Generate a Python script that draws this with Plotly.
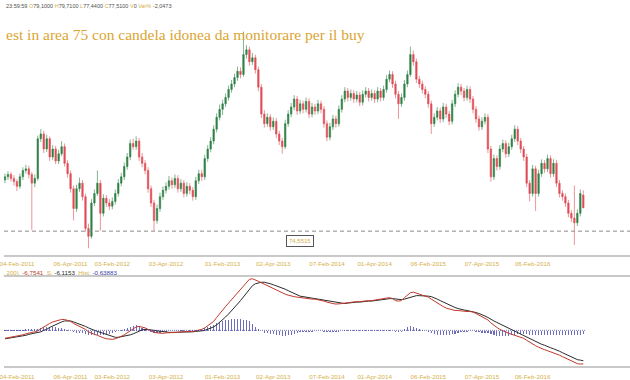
import numpy as np
import plotly.graph_objects as go

# ---- price data (one candle per bar index) ----
opens = [81.0, 81.4, 81.7, 81.2, 80.8, 80.2, 81.4, 82.2, 82.4, 81.7,
         80.6, 81.2, 86.2, 86.8, 84.9, 86.2, 83.9, 84.9, 83.4, 84.3,
         85.2, 83.1, 81.8, 79.9, 77.4, 79.9, 80.6, 78.9, 74.9, 73.9,
         78.1, 79.3, 80.6, 76.8, 78.7, 78.1, 77.7, 78.3, 79.3, 80.6,
         81.4, 82.7, 83.9, 85.6, 85.2, 85.9, 83.9, 83.1, 82.2, 79.9,
         78.1, 75.9, 77.4, 78.9, 79.7, 80.2, 80.9, 80.4, 81.2, 79.9,
         80.6, 79.3, 80.2, 79.7, 78.9, 80.9, 81.8, 81.4, 83.7, 84.9,
         85.9, 87.4, 88.9, 89.9, 90.6, 91.4, 92.4, 93.1, 93.9, 94.7,
         94.3, 96.8, 97.4, 95.9, 96.4, 94.9, 92.7, 89.3, 88.1, 88.9,
         87.7, 88.4, 86.8, 85.9, 85.2, 88.1, 89.3, 90.2, 91.2, 89.7,
         90.6, 89.9, 90.9, 89.3, 90.2, 89.7, 90.6, 89.9, 88.1, 86.4,
         87.7, 88.7, 88.1, 89.9, 91.2, 92.2, 91.4, 91.9, 91.2, 91.7,
         90.8, 91.8, 92.2, 91.4, 91.9, 91.2, 92.2, 91.4, 92.4, 93.7,
         94.3, 93.1, 91.8, 90.6, 91.4, 93.1, 94.3, 96.8, 95.9, 93.7,
         93.1, 92.4, 91.8, 90.6, 88.1, 88.9, 89.7, 88.7, 90.2, 89.3,
         88.4, 90.6, 91.8, 92.7, 92.2, 91.4, 92.4, 91.2, 89.9, 88.7,
         87.7, 88.4, 88.9, 84.9, 81.4, 83.7, 82.7, 84.9, 85.6, 84.3,
         85.2, 86.2, 87.4, 85.9, 84.9, 83.9, 80.6, 79.3, 82.4, 79.3,
         81.8, 83.1, 82.4, 83.7, 81.8, 83.1, 80.6, 79.3, 78.9, 78.1,
         76.8, 76.2, 75.6, 76.8, 79.10]

highs = [81.8, 82.1, 82.0, 81.6, 81.1, 81.8, 82.6, 82.9, 82.8, 82.0,
         81.7, 86.6, 87.4, 87.2, 86.7, 86.5, 85.4, 85.3, 84.8, 85.9,
         85.6, 83.5, 82.2, 80.3, 80.4, 81.3, 81.0, 79.3, 75.5, 78.6,
         79.8, 82.2, 81.0, 79.2, 79.1, 78.6, 78.8, 79.8, 81.1, 81.9,
         83.2, 84.4, 86.1, 86.2, 86.5, 86.3, 84.4, 83.5, 82.6, 80.3,
         78.5, 77.9, 79.4, 80.2, 80.7, 81.5, 81.3, 81.7, 81.6, 81.1,
         81.0, 80.7, 80.6, 80.1, 81.4, 82.3, 82.3, 84.2, 85.4, 86.4,
         87.9, 89.4, 90.5, 91.1, 91.9, 92.9, 93.6, 94.4, 95.3, 95.2,
         99.7, 98.0, 97.8, 97.0, 96.8, 95.3, 93.1, 89.8, 89.4, 89.3,
         88.9, 88.8, 87.2, 86.3, 88.6, 89.8, 90.7, 91.7, 91.6, 91.1,
         91.0, 91.4, 91.3, 90.7, 90.6, 91.1, 91.0, 90.3, 88.5, 88.2,
         89.2, 89.1, 90.4, 91.7, 92.7, 92.6, 92.4, 92.3, 92.2, 92.1,
         92.3, 92.7, 92.6, 92.4, 92.3, 92.7, 92.6, 92.9, 94.2, 94.8,
         94.7, 93.5, 92.2, 91.9, 93.6, 94.8, 97.8, 97.3, 96.3, 94.1,
         93.5, 92.8, 92.2, 91.0, 89.4, 90.2, 90.1, 90.7, 90.6, 89.7,
         91.1, 92.3, 93.2, 93.1, 92.6, 92.9, 92.8, 91.6, 90.3, 89.1,
         88.9, 89.4, 89.3, 85.3, 84.2, 84.1, 85.4, 86.1, 86.0, 85.7,
         86.7, 87.9, 87.8, 86.3, 85.3, 84.3, 81.0, 82.9, 82.8, 82.3,
         83.6, 83.5, 84.2, 84.1, 83.6, 83.5, 81.0, 79.7, 79.3, 78.5,
         77.2, 80.3, 77.3, 79.8, 79.71]

lows = [80.6, 81.0, 80.8, 80.3, 79.6, 79.9, 81.0, 81.8, 81.2, 74.7,
        80.1, 80.9, 85.8, 84.4, 84.5, 83.4, 83.5, 83.0, 83.0, 84.0,
        82.7, 81.3, 79.4, 75.9, 77.0, 79.5, 78.4, 74.5, 72.4, 73.6,
        77.7, 79.0, 74.6, 76.4, 77.6, 77.2, 77.3, 77.9, 78.9, 80.2,
        81.0, 82.3, 83.5, 84.8, 84.8, 83.4, 82.6, 81.7, 79.4, 77.6,
        74.6, 75.5, 77.0, 78.5, 79.3, 79.8, 79.9, 80.0, 79.4, 79.5,
        78.8, 78.9, 79.2, 78.4, 78.5, 80.5, 80.9, 81.0, 83.3, 84.5,
        85.5, 87.0, 88.5, 89.2, 90.2, 91.0, 92.0, 92.7, 93.5, 93.8,
        94.0, 96.3, 95.4, 95.5, 94.4, 92.2, 88.8, 87.6, 87.7, 87.2,
        87.3, 86.3, 85.4, 84.3, 84.9, 87.7, 88.9, 89.8, 89.2, 89.3,
        89.4, 89.5, 88.8, 88.9, 89.2, 89.3, 89.4, 87.6, 85.9, 86.0,
        87.3, 87.6, 87.7, 89.5, 90.8, 90.9, 91.0, 90.7, 90.8, 90.3,
        90.4, 91.4, 90.9, 91.0, 90.7, 90.8, 90.9, 91.0, 92.0, 93.3,
        92.6, 91.3, 88.7, 90.2, 91.0, 92.7, 94.0, 95.4, 93.2, 92.6,
        91.9, 91.3, 90.1, 86.8, 87.7, 88.5, 88.2, 88.3, 88.8, 87.9,
        88.0, 90.2, 91.4, 91.7, 90.9, 91.0, 90.7, 89.4, 88.2, 87.2,
        87.3, 88.0, 84.4, 80.8, 81.0, 82.2, 82.3, 84.5, 83.8, 83.9,
        84.8, 85.8, 85.4, 84.4, 83.4, 80.1, 78.3, 78.9, 77.1, 78.9,
        81.4, 81.9, 82.0, 81.3, 81.4, 80.1, 78.8, 78.4, 77.6, 76.3,
        75.7, 72.8, 75.2, 76.4, 77.44]

closes = [81.4, 81.7, 81.2, 80.8, 80.2, 81.4, 82.2, 82.4, 81.7, 80.6,
          81.2, 86.2, 86.8, 84.9, 86.2, 83.9, 84.9, 83.4, 84.3, 85.2,
          83.1, 81.8, 79.9, 77.4, 79.9, 80.6, 78.9, 74.9, 73.9, 78.1,
          79.3, 80.6, 76.8, 78.7, 78.1, 77.7, 78.3, 79.3, 80.6, 81.4,
          82.7, 83.9, 85.6, 85.2, 85.9, 83.9, 83.1, 82.2, 79.9, 78.1,
          75.9, 77.4, 78.9, 79.7, 80.2, 80.9, 80.4, 81.2, 79.9, 80.6,
          79.3, 80.2, 79.7, 78.9, 80.9, 81.8, 81.4, 83.7, 84.9, 85.9,
          87.4, 88.9, 89.9, 90.6, 91.4, 92.4, 93.1, 93.9, 94.7, 94.3,
          96.8, 97.4, 95.9, 96.4, 94.9, 92.7, 89.3, 88.1, 88.9, 87.7,
          88.4, 86.8, 85.9, 85.2, 88.1, 89.3, 90.2, 91.2, 89.7, 90.6,
          89.9, 90.9, 89.3, 90.2, 89.7, 90.6, 89.9, 88.1, 86.4, 87.7,
          88.7, 88.1, 89.9, 91.2, 92.2, 91.4, 91.9, 91.2, 91.7, 90.8,
          91.8, 92.2, 91.4, 91.9, 91.2, 92.2, 91.4, 92.4, 93.7, 94.3,
          93.1, 91.8, 90.6, 91.4, 93.1, 94.3, 96.8, 95.9, 93.7, 93.1,
          92.4, 91.8, 90.6, 88.1, 88.9, 89.7, 88.7, 90.2, 89.3, 88.4,
          90.6, 91.8, 92.7, 92.2, 91.4, 92.4, 91.2, 89.9, 88.7, 87.7,
          88.4, 88.9, 84.9, 81.4, 83.7, 82.7, 84.9, 85.6, 84.3, 85.2,
          86.2, 87.4, 85.9, 84.9, 83.9, 80.6, 79.3, 82.4, 79.3, 81.8,
          83.1, 82.4, 83.7, 81.8, 83.1, 80.6, 79.3, 78.9, 78.1, 76.8,
          76.2, 75.6, 76.8, 79.3, 77.51]

# ---- MACD panel data ----
macd_line = [-1.6, -1.5, -1.4, -1.3, -1.2, -1.1, -0.9, -0.7, -0.5, -0.4,
             -0.3, -0.1, 0.3, 0.7, 1.0, 1.4, 1.7, 1.9, 2.1, 2.2,
             2.2, 2.0, 1.8, 1.4, 1.1, 0.9, 0.6, 0.2, -0.3, -0.6,
             -0.8, -1.0, -1.3, -1.5, -1.7, -1.8, -1.8, -1.7, -1.5, -1.2,
             -0.9, -0.5, -0.1, 0.3, 0.7, 0.8, 0.7, 0.5, 0.2, -0.1,
             -0.4, -0.5, -0.6, -0.6, -0.5, -0.5, -0.4, -0.4, -0.4, -0.3,
             -0.3, -0.3, -0.2, -0.2, -0.1, 0.0, 0.2, 0.5, 0.9, 1.3,
             1.8, 2.6, 3.4, 4.1, 4.8, 5.5, 6.2, 6.9, 7.6, 8.3,
             9.0, 9.7, 10.3, 10.4, 10.2, 9.9, 9.6, 9.3, 9.1, 8.8,
             8.5, 8.2, 7.9, 7.6, 7.3, 7.1, 6.9, 6.8, 6.7, 6.6,
             6.6, 6.5, 6.4, 6.3, 6.3, 6.2, 6.1, 5.9, 5.7, 5.5,
             5.4, 5.3, 5.3, 5.4, 5.5, 5.6, 5.7, 5.7, 5.8, 5.8,
             5.9, 5.9, 6.0, 6.0, 6.1, 6.1, 6.2, 6.3, 6.5, 6.6,
             6.4, 6.0, 5.9, 6.0, 6.6, 7.2, 7.6, 7.7, 7.5, 7.3,
             7.1, 6.9, 6.7, 6.3, 5.9, 5.5, 5.1, 4.8, 4.5, 4.3,
             4.1, 4.0, 4.0, 3.9, 3.9, 3.8, 3.8, 3.7, 3.4, 3.1,
             2.8, 2.5, 2.1, 1.5, 1.0, 0.6, 0.2, -0.1, -0.4, -0.6,
             -0.8, -1.0, -1.2, -1.4, -1.6, -2.0, -2.4, -2.8, -3.1, -3.4,
             -3.7, -3.9, -4.1, -4.3, -4.5, -4.7, -5.0, -5.3, -5.6, -5.9,
             -6.2, -6.5, -6.7, -6.8, -6.7541]

signal_line = [-1.7, -1.6, -1.5, -1.4, -1.3, -1.3, -1.1, -1.0, -0.8, -0.7,
               -0.6, -0.5, -0.3, 0.0, 0.2, 0.6, 0.9, 1.2, 1.5, 1.7,
               1.9, 1.9, 1.9, 1.7, 1.5, 1.3, 1.1, 0.8, 0.5, 0.2,
               0.0, -0.2, -0.4, -0.6, -0.9, -1.1, -1.3, -1.4, -1.4, -1.3,
               -1.2, -1.1, -0.9, -0.7, -0.4, -0.1, 0.1, 0.2, 0.2, 0.1,
               0.0, -0.1, -0.2, -0.3, -0.3, -0.4, -0.4, -0.4, -0.4, -0.4,
               -0.4, -0.3, -0.3, -0.3, -0.2, -0.2, -0.1, 0.0, 0.2, 0.4,
               0.7, 1.1, 1.6, 2.1, 2.7, 3.3, 3.9, 4.6, 5.3, 6.0,
               6.8, 7.6, 8.4, 9.0, 9.4, 9.6, 9.7, 9.7, 9.6, 9.4,
               9.2, 9.0, 8.8, 8.6, 8.3, 8.0, 7.7, 7.4, 7.1, 6.9,
               6.8, 6.7, 6.6, 6.5, 6.4, 6.3, 6.2, 6.1, 6.0, 5.8,
               5.7, 5.6, 5.5, 5.4, 5.4, 5.5, 5.6, 5.6, 5.7, 5.7,
               5.8, 5.8, 5.9, 5.9, 6.0, 6.0, 6.1, 6.2, 6.3, 6.4,
               6.4, 6.3, 6.2, 6.2, 6.3, 6.5, 6.7, 6.9, 7.0, 7.0,
               7.0, 7.0, 6.9, 6.8, 6.6, 6.3, 6.0, 5.7, 5.4, 5.1,
               4.8, 4.6, 4.4, 4.2, 4.1, 4.0, 3.9, 3.8, 3.6, 3.4,
               3.2, 2.9, 2.6, 2.2, 1.9, 1.6, 1.3, 1.0, 0.7, 0.4,
               0.1, -0.2, -0.5, -0.8, -1.0, -1.3, -1.6, -1.9, -2.2, -2.5,
               -2.8, -3.0, -3.3, -3.5, -3.7, -3.9, -4.2, -4.5, -4.8, -5.1,
               -5.4, -5.7, -5.9, -6.0, -6.1153]

# ---- axis labels ----
tick_positions = [4, 22, 36, 54, 73, 90, 108, 124, 142, 160, 177]
tick_labels = ["04-Feb-2011", "06-Apr-2011", "03-Feb-2012", "03-Apr-2012",
               "01-Feb-2013", "02-Apr-2013", "07-Feb-2014", "01-Apr-2014",
               "06-Feb-2015", "07-Apr-2015", "06-Feb-2016"]
support_level = 74.5515

bars = list(range(len(closes)))
hist = (np.array(macd_line) - np.array(signal_line)).tolist()

GOLD = "#d6b14a"
W, H = 630, 380
def py(p):
    return 1 - p / H

fig = go.Figure()
fig.add_trace(go.Candlestick(
    x=bars, open=opens, high=highs, low=lows, close=closes,
    xaxis="x", yaxis="y", whiskerwidth=0, showlegend=False, hoverinfo="skip",
    increasing=dict(line=dict(color="#2f8145", width=0.6), fillcolor="#2f8145"),
    decreasing=dict(line=dict(color="#e04c55", width=0.6), fillcolor="#e04c55"),
))
fig.add_shape(type="line", xref="paper", x0=0, x1=585 / W, yref="y2", y0=0, y1=0,
              line=dict(color="rgba(72,72,170,0.75)", width=1, dash="1px,1px"))
fig.add_trace(go.Bar(
    x=bars, y=hist, xaxis="x2", yaxis="y2", width=0.42,
    marker=dict(color="rgba(72,72,170,0.8)", line=dict(width=0)),
    showlegend=False, hoverinfo="skip",
))
fig.add_trace(go.Scatter(
    x=bars, y=signal_line, xaxis="x2", yaxis="y2", mode="lines",
    line=dict(color="#2b2b2b", width=1), showlegend=False, hoverinfo="skip",
))
fig.add_trace(go.Scatter(
    x=bars, y=macd_line, xaxis="x2", yaxis="y2", mode="lines",
    line=dict(color="#c0392b", width=1), showlegend=False, hoverinfo="skip",
))

xr = [-1 / 3, W / 3 - 1 / 3]
def xaxis_style(ticklen):
    return dict(range=xr, tickvals=tick_positions, ticktext=tick_labels,
                tickfont=dict(family="Liberation Sans", size=6.2, color=GOLD),
                showgrid=False, zeroline=False, showline=True,
                linecolor="#c9c9c9", linewidth=1.5,
                ticks="outside", ticklen=ticklen, tickcolor="rgba(0,0,0,0)",
                ticklabeloverflow="allow", fixedrange=True)

fig.update_layout(
    width=W, height=H, margin=dict(l=0, r=0, t=0, b=0),
    paper_bgcolor="white", plot_bgcolor="white",
    xaxis=dict(domain=[0, 1], anchor="y", rangeslider=dict(visible=False), **xaxis_style(2)),
    yaxis=dict(domain=[py(257), 1], range=[71.55, 103.68], showticklabels=False,
               showgrid=False, zeroline=False, showline=False),
    xaxis2=dict(domain=[0, 1], anchor="y2", mirror=True, **xaxis_style(4)),
    yaxis2=dict(domain=[py(369), py(279)], range=[-7.2, 10.8], showticklabels=False,
                showgrid=False, zeroline=False, showline=False),
    bargap=0,
)

fig.add_shape(type="line", xref="paper", x0=0, x1=1, yref="y",
              y0=support_level, y1=support_level,
              line=dict(color="#8a8a8a", width=1, dash="4px,3px"))

g = lambda s: f"<span style='color:{GOLD}'>{s}</span>"
d = lambda s: f"<span style='color:#505050'>{s}</span>"
header = (d("23:59:59") + " " + g("O") + d("79,1000") + " " + g("H") + d("79,7100") + " "
          + g("L") + d("77,4400") + " " + g("C") + d("77,5100") + " " + g("V") + d("0")
          + " " + g("Var%") + " " + d("-2,0473"))
fig.add_annotation(xref="paper", yref="paper", x=0, y=py(6), xanchor="left", yanchor="middle",
                   text=header, showarrow=False,
                   font=dict(family="Liberation Sans", size=5.5, color="#505050"))

fig.add_annotation(xref="paper", yref="paper", x=0, y=py(35), xanchor="left", yanchor="middle",
                   text="est in area 75 con candela idonea da monitorare per il buy",
                   showarrow=False,
                   font=dict(family="Liberation Serif", size=15.5, color="#dba531"))

fig.add_annotation(xref="x", yref="y", x=99, y=support_level, xanchor="center", yanchor="top",
                   yshift=-4, text="74,5515", showarrow=False,
                   font=dict(family="Liberation Sans", size=6, color=GOLD),
                   bgcolor="white", bordercolor="#555555", borderwidth=1, borderpad=2)

macd_head = (g(", 200)") + "&nbsp;&nbsp;" + "<span style='color:#c0392b'>-6,7541</span>"
             + "&nbsp;&nbsp;" + g("S:") + "&nbsp;" + "<span style='color:#2b2b2b'>-6,1153</span>"
             + "&nbsp;&nbsp;" + g("Hist:") + "&nbsp;" + "<span style='color:#3a3aa8'>-0,63883</span>")
fig.add_annotation(xref="paper", yref="paper", x=0, y=py(275), xanchor="left", yanchor="middle",
                   xshift=-3, text=macd_head, showarrow=False,
                   font=dict(family="Liberation Sans", size=6.2, color=GOLD))

fig.write_html("out.html")
